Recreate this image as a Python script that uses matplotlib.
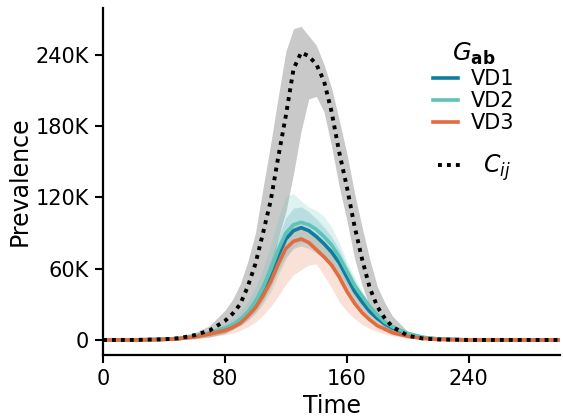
import matplotlib.pyplot as plt
from matplotlib.ticker import FuncFormatter
from matplotlib.lines import Line2D

# time points (days)
t = [0, 20, 40, 50, 60, 70, 80, 85, 90, 95, 100, 105, 110, 115, 120, 125, 130, 135,
     140, 145, 150, 155, 160, 165, 170, 175, 180, 185, 190, 200, 210, 220, 240, 260, 280, 300]

# prevalence in thousands
cij_mean = [0, 0, 0.5, 1.5, 4, 8, 16, 22, 30, 45, 64, 90, 117, 154, 189, 228, 242, 239,
            232, 218, 192, 158, 129, 96, 68, 44, 28, 18, 11, 3.5, 1.2, 0.4, 0, 0, 0, 0]
cij_hi = [0, 0.2, 1.5, 3, 6, 12, 25, 34, 47, 66, 90, 128, 165, 205, 243, 262, 264, 256,
          248, 232, 212, 185, 157, 124, 95, 68, 45, 31, 20, 7, 2.5, 0.8, 0, 0, 0, 0]
cij_lo = [0, 0, 0, 0.3, 1, 2.5, 5.5, 9, 14, 21, 29, 44, 60, 86, 108, 140, 176, 203,
          205, 192, 163, 129, 101, 69, 46, 28, 17, 10, 6, 2, 0.5, 0, 0, 0, 0, 0]

vd1_mean = [0, 0, 0.5, 1.2, 3, 5.5, 9, 12, 16, 22, 30, 41, 55, 71, 85, 92, 94.5, 92,
            87, 81, 74, 65, 53, 41, 32, 24, 18, 13.5, 10, 5, 2, 0.7, 0, 0, 0, 0]
vd1_hi = [0, 0, 0.7, 1.7, 4, 7, 11.5, 15, 20, 27, 37, 50, 67, 86, 103, 111, 112, 108,
          102, 95, 87, 76, 63, 50, 39, 30, 22, 16, 12, 6, 2.5, 0.9, 0, 0, 0, 0]
vd1_lo = [0, 0, 0.3, 0.8, 2, 4, 6.5, 9, 12, 17, 23, 32, 44, 58, 70, 77, 79, 77,
          73, 68, 61, 53, 43, 33, 25, 19, 14, 10, 7, 3.5, 1.3, 0.5, 0, 0, 0, 0]

vd2_mean = [0, 0, 0.5, 1.3, 3.2, 6, 10, 13, 17, 23, 32, 44, 59, 76, 90, 97, 99, 97,
            93, 87, 80, 70, 58, 46, 37, 28, 21, 15, 11, 5.5, 2.2, 0.8, 0, 0, 0, 0]
vd2_hi = [0, 0, 0.8, 2, 4.5, 8, 14, 18, 24, 32, 44, 60, 80, 103, 121, 123, 117, 112,
          109, 104, 95, 82, 66, 53, 41, 31, 24, 18, 13, 7, 3, 1, 0, 0, 0, 0]
vd2_lo = [0, 0, 0.3, 0.8, 2, 4, 7, 9, 12, 16, 22, 30, 40, 54, 68, 78, 82, 82,
          78, 72, 65, 56, 46, 36, 28, 21, 16, 11, 8, 4, 1.5, 0.5, 0, 0, 0, 0]

vd3_mean = [0, 0, 0.4, 1, 2.5, 5, 8, 10.5, 14, 20, 27, 37, 49, 64, 77, 83, 85, 82,
            76, 70, 63, 53, 41, 31, 23, 17, 12, 9, 6, 3, 1.2, 0.4, 0, 0, 0, 0]
vd3_hi = [0, 0, 0.6, 1.4, 3, 6, 10, 13, 17, 24, 33, 45, 60, 77, 90, 96, 97, 94,
          88, 81, 73, 62, 50, 38, 29, 22, 16, 11.5, 8, 4, 1.6, 0.6, 0, 0, 0, 0]
vd3_lo = [0, 0, 0.2, 0.5, 1, 2.5, 4.5, 6, 8, 11, 15, 21, 28, 37, 47, 55, 59, 63,
          64, 54, 44, 32, 24, 18, 13, 9.5, 7, 5, 3.5, 1.5, 0.5, 0.2, 0, 0, 0, 0]

labels = ["VD1", "VD2", "VD3"]
colors = ["#107da0", "#5ec4b8", "#e36c3e"]

k = lambda v: [x * 1000 for x in v]

fig = plt.figure(figsize=(5.63, 4.19), dpi=100)
ax = fig.add_axes([0.183, 0.153, 0.812, 0.828])

ax.fill_between(t, k(cij_lo), k(cij_hi), color="0.79", lw=0)

series = [(vd1_mean, vd1_lo, vd1_hi), (vd2_mean, vd2_lo, vd2_hi), (vd3_mean, vd3_lo, vd3_hi)]
for (m, lo, hi), c in zip(series, colors):
    ax.fill_between(t, k(lo), k(hi), color=c, alpha=0.2, lw=0)

handles = []
for (m, lo, hi), c, lab in zip(series, colors, labels):
    h, = ax.plot(t, k(m), color=c, lw=2.6, label=lab)
    handles.append(h)

dots = (0, (1, 1.3))
ax.plot(t, k(cij_mean), color="black", lw=2.8, ls=dots)

ax.set_xlim(0, 300)
ax.set_ylim(-12600, 279500)
ax.set_xticks([0, 80, 160, 240])
ax.set_yticks([0, 60000, 120000, 180000, 240000])
ax.yaxis.set_major_formatter(FuncFormatter(lambda v, p: "0" if v == 0 else f"{int(v / 1000)}K"))
ax.tick_params(labelsize=15, width=1.5, length=6, pad=4)
for s in ["top", "right"]:
    ax.spines[s].set_visible(False)
for s in ["left", "bottom"]:
    ax.spines[s].set_linewidth(1.6)
ax.set_xlabel("Time", fontsize=17, labelpad=4)
ax.set_ylabel("Prevalence", fontsize=17, labelpad=3)

leg1 = ax.legend(handles=handles, title=r"$G_{\mathbf{ab}}$", loc="upper left",
                 bbox_to_anchor=(0.722, 0.905), frameon=False, fontsize=15,
                 title_fontsize=17.5, handlelength=1.2, handletextpad=0.6,
                 labelspacing=0.1, borderpad=0, borderaxespad=0)
ax.add_artist(leg1)
dot = Line2D([], [], color="black", lw=2.8, ls=dots)
ax.legend(handles=[dot], labels=[r"$C_{ij}$"], loc="center left",
          bbox_to_anchor=(0.733, 0.539), frameon=False, fontsize=17,
          handlelength=1.06, handletextpad=0.85, borderpad=0, borderaxespad=0)

fig.savefig("out.png", dpi=100)
